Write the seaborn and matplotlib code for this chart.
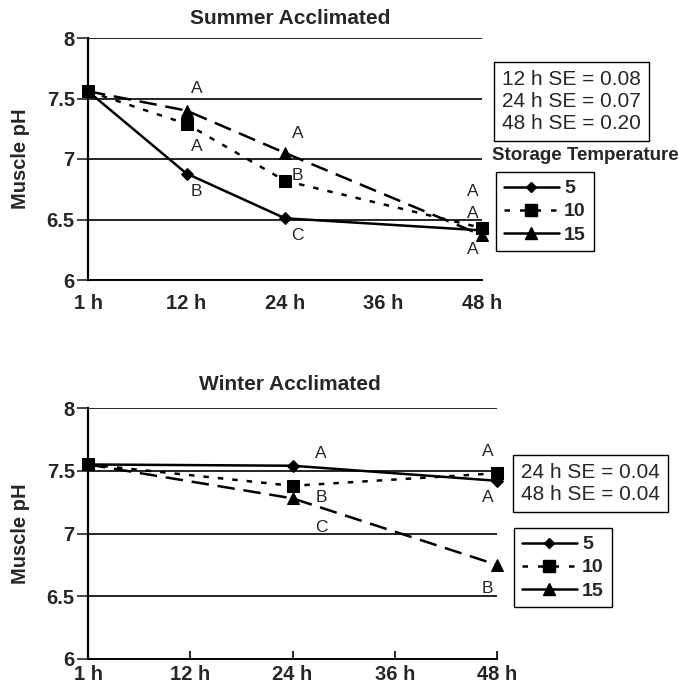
import numpy as np
import pandas as pd
import seaborn as sns
import matplotlib
matplotlib.use("Agg")
import matplotlib.pyplot as plt
from matplotlib.lines import Line2D

# ---------------- data ----------------
time_ticks = ["1 h", "12 h", "24 h", "36 h", "48 h"]
storage_temps = ["5", "10", "15"]

summer_times = ["1 h", "12 h", "24 h", "48 h"]
summer_5 = [7.56, 6.88, 6.51, 6.41]
summer_10 = [7.56, 7.29, 6.82, 6.43]
summer_15 = [7.56, 7.40, 7.05, 6.37]

winter_times = ["1 h", "24 h", "48 h"]
winter_5 = [7.55, 7.54, 7.42]
winter_10 = [7.55, 7.38, 7.48]
winter_15 = [7.55, 7.28, 6.75]

summer_se = ["12 h SE = 0.08", "24 h SE = 0.07", "48 h SE = 0.20"]
winter_se = ["24 h SE = 0.04", "48 h SE = 0.04"]

# significance letters: (time, letter, y position)
summer_letters = [("12 h", "A", 7.58), ("12 h", "A", 7.10), ("12 h", "B", 6.73),
                  ("24 h", "A", 7.21), ("24 h", "B", 6.86), ("24 h", "C", 6.37),
                  ("48 h", "A", 6.73), ("48 h", "A", 6.55), ("48 h", "A", 6.25)]
winter_letters = [("24 h", "A", 7.64), ("24 h", "B", 7.29), ("24 h", "C", 7.05),
                  ("48 h", "A", 7.65), ("48 h", "A", 7.29), ("48 h", "B", 6.56)]

# ---------------- styling ----------------
sns.set_style("white")
plt.rcParams["font.family"] = ["Liberation Sans", "DejaVu Sans"]

markers = {"5": "D", "10": "s", "15": "^"}
dashes = {"5": "", "10": (2.2, 3.6), "15": (7, 3.5)}
msizes = {"5": 6.5, "10": 9, "15": 9}
legend_styles = {"5": "-", "10": (0, (2.2, 4.0)), "15": "-"}

W, H = 678, 686
fig = plt.figure(figsize=(W / 100, H / 100), dpi=100)


def px_ax(l, r, t, b):
    return fig.add_axes([l / W, 1 - b / H, (r - l) / W, (b - t) / H])


def build_df(times, series):
    rows = []
    for temp, vals in zip(storage_temps, series):
        for t, v in zip(times, vals):
            rows.append({"pos": time_ticks.index(t), "pH": v, "temp": temp})
    return pd.DataFrame(rows)


def draw_panel(ax, df, letters, letter_dx, inward_ticks):
    sns.lineplot(data=df, x="pos", y="pH", style="temp", style_order=storage_temps,
                 markers=markers, dashes=dashes, color="black", linewidth=1.8,
                 legend=False, ax=ax, sort=False)
    for ln, temp in zip(ax.lines, storage_temps):
        ln.set_markersize(msizes[temp])
        ln.set_clip_on(False)
        ln.set_markerfacecolor("black")
        ln.set_markeredgecolor("black")
    ax.set_xlim(0, 4)
    ax.set_ylim(6, 8)
    ax.set_yticks([6, 6.5, 7, 7.5, 8])
    ax.set_yticklabels(["6", "6.5", "7", "7.5", "8"], fontsize=14.5, fontweight="bold")
    ax.set_xticks(range(len(time_ticks)))
    ax.set_xticklabels(time_ticks, fontsize=14.5, fontweight="bold")
    ax.yaxis.grid(True, color="black", linewidth=1.2)
    ax.xaxis.grid(False)
    for s in ["top", "right"]:
        ax.spines[s].set_visible(False)
    ax.spines["left"].set_linewidth(1.6)
    ax.spines["bottom"].set_linewidth(1.4)
    ax.spines["left"].set_color("black")
    ax.spines["bottom"].set_color("black")
    ax.tick_params(axis="y", direction="out", length=8, width=1.2, pad=1.5, left=True)
    if inward_ticks:
        ax.tick_params(axis="x", direction="in", length=5.5, width=1.4, pad=4, bottom=True)
    else:
        ax.tick_params(axis="x", length=0, pad=10)
    ax.set_xlabel("")
    ax.set_ylabel("Muscle pH", fontsize=14.5, fontweight="bold", labelpad=12)
    for t, letter, y in letters:
        ax.text(time_ticks.index(t) + letter_dx[t], y, letter, fontsize=12.5,
                ha="center", va="center", clip_on=False)


def se_box(x, y, lines):
    fig.text(x / W, 1 - y / H, "\n".join(lines), fontsize=15, ha="left", va="top",
             linespacing=1.2,
             bbox=dict(boxstyle="square,pad=0.4", facecolor="white", edgecolor="black",
                       linewidth=1.0))


def legend_box(ax, x, y):
    handles = [Line2D([0], [0], color="black", linewidth=1.8, marker=markers[t],
                      markersize=msizes[t] - 1, linestyle=legend_styles[t], label=t)
               for t in storage_temps]
    leg = ax.legend(handles=handles, loc="upper left",
                    bbox_to_anchor=(x / W, 1 - y / H), bbox_transform=fig.transFigure,
                    frameon=True, fancybox=False, edgecolor="black", framealpha=1,
                    handlelength=2.85, handletextpad=0.25, labelspacing=0.28,
                    borderpad=0.4, borderaxespad=0,
                    prop={"size": 14, "weight": "bold"})
    leg.get_frame().set_linewidth(1.0)


# ---------------- summer panel ----------------
ax1 = px_ax(88, 482, 38, 280)
draw_panel(ax1, build_df(summer_times, [summer_5, summer_10, summer_15]),
           summer_letters, {"12 h": 0.10, "24 h": 0.13, "48 h": -0.09}, False)
fig.text(290 / W, 1 - 18 / H, "Summer Acclimated", fontsize=15, fontweight="bold",
         ha="center", va="center")
se_box(502, 70, summer_se)
fig.text(492 / W, 1 - 156 / H, "Storage Temperature", fontsize=13.5, fontweight="bold",
         ha="left", va="center")
legend_box(ax1, 496, 172)

# ---------------- winter panel ----------------
ax2 = px_ax(88, 497, 408, 659)
draw_panel(ax2, build_df(winter_times, [winter_5, winter_10, winter_15]),
           winter_letters, {"24 h": 0.28, "48 h": -0.09}, True)
fig.text(290 / W, 1 - 385 / H, "Winter Acclimated", fontsize=15, fontweight="bold",
         ha="center", va="center")
se_box(521, 463, winter_se)
legend_box(ax2, 514, 528)

fig.savefig("out.png", dpi=100)
